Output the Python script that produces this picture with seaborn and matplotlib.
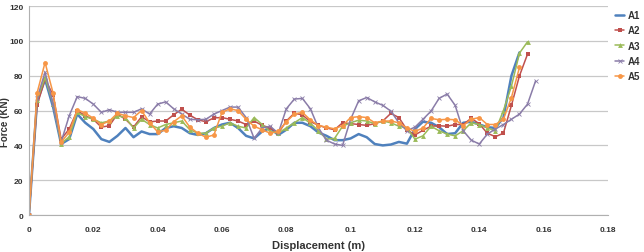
import numpy as np
import pandas as pd
import matplotlib
matplotlib.use("Agg")
import matplotlib.pyplot as plt
import seaborn as sns

# displacement (m), one sample every 0.0025 m
displacement = [round(i * 0.0025, 4) for i in range(64)]

A1 = [0, 65, 78, 62, 40.8, 43.6, 58, 53, 49.4, 43.6, 42, 45.5, 50, 44.7, 48, 46.5,
      46.5, 50, 51, 50, 47, 46, 47, 50, 52, 53, 50, 45.5, 44, 48, 50, 46,
      49, 53, 53, 51, 47.4, 45.5, 43, 43, 44, 46.5, 44.7, 40.8, 40, 40.5, 42, 41,
      49.4, 53.6, 53, 50.5, 46.5, 47, 53, 53.6, 52, 50.5, 50, 56, 80, 93.4, None, None]
A2 = [0, 63, 78, 69, 43.6, 49.4, 60, 57, 55, 50.5, 51.3, 58, 55, 50.5, 56.5, 53.5,
      54, 54, 57.6, 60.8, 57.4, 54.7, 53.6, 55.8, 56, 55, 54, 52, 54, 51.5, 50, 47,
      54, 58.5, 57.5, 53.6, 51.6, 50, 49, 53, 52.5, 52, 51.5, 52.5, 54, 58.4, 56, 49,
      46, 48.7, 51, 51.3, 51, 52, 52, 55.6, 52.4, 47, 45, 47, 63, 80, 92.4, None]
A3 = [0, 66, 79, 64, 41, 45, 59, 56.5, 55, 53, 54, 57, 56, 50, 55, 52,
      50, 52, 53, 54, 49, 47, 47, 50, 51, 53, 51, 50, 56, 52, 48, 47,
      50, 53, 56, 52.7, 48.4, 43.6, 44, 51, 53, 54.5, 54, 52.5, 54, 53, 51, 50,
      43.6, 45.5, 51, 48.4, 46.5, 45.5, 48.4, 53, 52, 50, 48.4, 60, 74, 93, 99.5, None]
A4 = [0, 67, 82, 64, 42, 57, 68, 67, 63.7, 59, 60.5, 59, 59, 59, 61, 58,
      63.7, 65, 61, 58, 55, 54.7, 55, 58, 60, 62, 62, 56, 44, 50, 51, 47,
      61, 66.6, 67, 61, 50, 43, 40.8, 40, 55, 65.6, 67.5, 65, 63, 59.7, 53, 48.4,
      50.5, 55, 59.7, 67, 69.5, 63, 48.4, 43, 40.8, 46.5, 49.4, 52, 55, 58, 63.7, 77]
A5 = [0, 70, 87.6, 70, 41.9, 47.5, 60.5, 58.5, 55.6, 52, 54, 58.5, 57, 56, 60, 53,
      47.8, 48.7, 53.6, 57, 50.5, 47, 44.7, 46, 59, 61, 60, 55, 51, 49, 47, 48,
      53.5, 58, 59, 54.6, 51.4, 50.5, 49.5, 51.4, 56, 56.5, 56, 53, 54, 54, 53, 50,
      48, 50, 55.5, 54.7, 55, 54.7, 51.4, 55, 56, 52, 52, 55, 67.5, 84.8, None, None]

series = {"A1": A1, "A2": A2, "A3": A3, "A4": A4, "A5": A5}
colors = {"A1": "#4F81BD", "A2": "#C0504D", "A3": "#9BBB59", "A4": "#8A7CA8", "A5": "#F79646"}
markers = {"A1": "", "A2": "s", "A3": "^", "A4": "x", "A5": "o"}
widths = {"A1": 1.8, "A2": 1.1, "A3": 1.1, "A4": 1.1, "A5": 1.1}

rows = []
for name, vals in series.items():
    for x, v in zip(displacement, vals):
        if v is not None:
            rows.append({"Displacement": x, "Force": v, "Series": name})
df = pd.DataFrame(rows)

sns.set_style("white")
plt.rcParams["font.family"] = ["Liberation Sans", "DejaVu Sans"]

fig = plt.figure(figsize=(6.44, 2.53), dpi=100)
ax = fig.add_axes([0.045, 0.146, 0.899, 0.826])

for name in series:
    sub = df[df["Series"] == name]
    sns.lineplot(data=sub, x="Displacement", y="Force", ax=ax, color=colors[name],
                 linewidth=widths[name], marker=markers[name] if markers[name] else None,
                 markersize=3.5 if name != "A4" else 3, markeredgewidth=0.6 if name == "A4" else 0,
                 markeredgecolor=colors[name], label=name, sort=False)

ax.set_xlim(0, 0.18)
ax.set_ylim(0, 120)
ax.set_xticks(np.arange(0, 0.181, 0.02))
ax.set_xticklabels(["0", "0.02", "0.04", "0.06", "0.08", "0.1", "0.12", "0.14", "0.16", "0.18"])
ax.set_yticks(range(0, 121, 20))
ax.yaxis.grid(True, color="#c8c8c8", linewidth=0.9)
ax.xaxis.grid(False)
for s in ["top", "right"]:
    ax.spines[s].set_visible(False)
ax.spines["left"].set_color("#b0b0b0")
ax.spines["bottom"].set_color("#b0b0b0")
ax.tick_params(axis="both", length=0, labelsize=6, colors="#333333")
for lab in ax.get_xticklabels() + ax.get_yticklabels():
    lab.set_fontweight("bold")
ax.tick_params(axis="x", pad=8)
ax.tick_params(axis="y", pad=4)

ax.set_xlabel("Displacement (m)", fontsize=8, fontweight="bold", color="#333333")
ax.set_ylabel("Force (KN)", fontsize=7, fontweight="bold", color="#333333")
ax.xaxis.set_label_coords(0.5, -0.12)
ax.yaxis.set_label_coords(-0.032, 0.45)

leg = ax.legend(loc="upper left", bbox_to_anchor=(1.005, 1.0), frameon=False,
                fontsize=7, handlelength=1.0, handletextpad=0.3, labelspacing=0.55,
                borderaxespad=0)
for t in leg.get_texts():
    t.set_fontweight("bold")
    t.set_color("#333333")

fig.savefig("out.png", dpi=100)
